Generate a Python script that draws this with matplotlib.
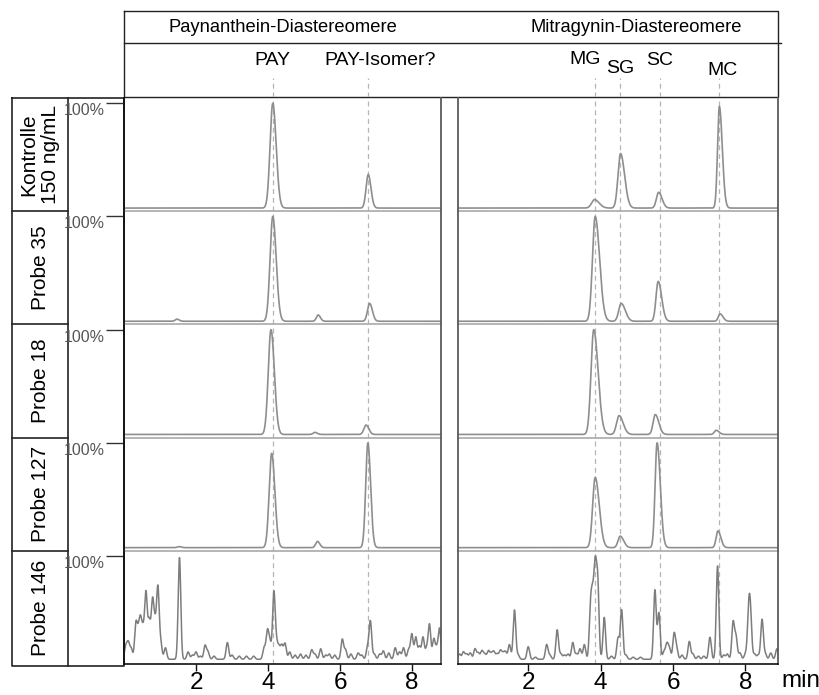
import numpy as np
import matplotlib.pyplot as plt

plt.rcParams['font.family'] = ['Liberation Sans', 'DejaVu Sans']

# ---------------- data
row_labels = ['Kontrolle\n150 ng/mL', 'Probe 35', 'Probe 18', 'Probe 127', 'Probe 146']
panel_titles = ['Paynanthein-Diastereomere', 'Mitragynin-Diastereomere']

# marker retention times (min) for the dashed lines
left_marks = ['PAY', 'PAY-Isomer?']
left_mark_rt = [4.13, 6.78]
right_marks = ['MG', 'SG', 'SC', 'MC']
right_mark_rt = [3.85, 4.54, 5.64, 7.28]

# clean traces: retention time, relative height, peak width (sigma, min)
left_rt = [[4.13, 6.78],
           [1.47, 4.13, 5.39, 6.82],
           [4.08, 5.30, 6.72],
           [1.53, 4.10, 5.37, 6.77]]
left_h = [[1.0, 0.32],
          [0.02, 1.0, 0.06, 0.17],
          [1.0, 0.02, 0.09],
          [0.01, 0.90, 0.06, 1.0]]
left_w = [[0.075, 0.06],
          [0.05, 0.075, 0.05, 0.06],
          [0.075, 0.05, 0.06],
          [0.05, 0.07, 0.05, 0.06]]

right_rt = [[3.83, 4.55, 5.60, 7.28],
            [3.85, 4.57, 5.59, 7.30],
            [3.81, 4.51, 5.51, 7.19],
            [3.85, 4.54, 5.56, 7.24]]
right_h = [[0.08, 0.52, 0.15, 0.97],
           [1.0, 0.17, 0.38, 0.07],
           [1.0, 0.18, 0.19, 0.04],
           [0.67, 0.11, 1.0, 0.16]]
right_w = [[0.08, 0.07, 0.06, 0.05],
           [0.075, 0.07, 0.06, 0.05],
           [0.075, 0.07, 0.06, 0.05],
           [0.07, 0.06, 0.055, 0.05]]

# noisy sample Probe 146: retention time, relative height
p146_left_rt = [0.05, 0.12, 0.2, 0.33, 0.40, 0.46, 0.53, 0.61, 0.70, 0.79, 0.86, 0.94, 1.02,
                1.15, 1.54, 1.78, 1.9, 2.0, 2.12, 2.25, 2.33, 2.5, 2.87, 3.0, 3.2, 3.4, 3.6,
                3.89, 3.98, 4.05, 4.16, 4.23, 4.30, 4.38, 4.47, 4.6, 4.75, 4.9, 5.05, 5.21,
                5.3, 5.46, 5.6, 5.7, 5.85, 6.06, 6.15, 6.3, 6.5, 6.6, 6.76, 6.84, 6.95, 7.1,
                7.2, 7.35, 7.53, 7.65, 7.76, 7.9, 7.99, 8.1, 8.2, 8.3, 8.4, 8.48, 8.6, 8.68, 8.76]
p146_left_h = [0.12, 0.15, 0.10, 0.33, 0.22, 0.33, 0.25, 0.62, 0.35, 0.53, 0.30, 0.67, 0.15,
               0.11, 0.97, 0.07, 0.04, 0.07, 0.03, 0.13, 0.07, 0.03, 0.16, 0.04, 0.03, 0.03, 0.03,
               0.11, 0.26, 0.16, 0.63, 0.14, 0.11, 0.13, 0.15, 0.07, 0.04, 0.05, 0.04, 0.09,
               0.05, 0.10, 0.04, 0.05, 0.04, 0.19, 0.09, 0.05, 0.06, 0.04, 0.11, 0.36, 0.05, 0.05,
               0.08, 0.06, 0.11, 0.07, 0.11, 0.09, 0.24, 0.21, 0.12, 0.21, 0.10, 0.33, 0.19, 0.10, 0.29]

p146_right_rt = [0.1, 0.21, 0.3, 0.4, 0.53, 0.62, 0.72, 0.8, 0.9, 0.98, 1.05, 1.14, 1.23, 1.3,
                 1.37, 1.48, 1.62, 1.72, 2.0, 2.2, 2.51, 2.6, 2.8, 2.9, 3.0, 3.1, 3.23, 3.33,
                 3.43, 3.55, 3.72, 3.78, 3.85, 3.92, 4.1, 4.3, 4.48, 4.58, 4.7, 4.9, 5.1, 5.5,
                 5.61, 5.75, 5.83, 5.9, 6.03, 6.1, 6.25, 6.45, 6.55, 6.7, 6.85, 7.02, 7.23, 7.4,
                 7.5, 7.66, 7.74, 7.85, 8.0, 8.09, 8.14, 8.25, 8.35, 8.46, 8.55, 8.7, 8.87]
p146_right_h = [0.05, 0.07, 0.05, 0.06, 0.10, 0.06, 0.08, 0.05, 0.08, 0.05, 0.07, 0.05, 0.08, 0.05,
                0.07, 0.14, 0.47, 0.04, 0.12, 0.02, 0.14, 0.04, 0.28, 0.05, 0.04, 0.05, 0.16, 0.05,
                0.10, 0.14, 0.45, 0.50, 0.80, 0.70, 0.40, 0.03, 0.20, 0.47, 0.04, 0.02, 0.02, 0.66,
                0.44, 0.07, 0.14, 0.10, 0.24, 0.10, 0.04, 0.17, 0.05, 0.03, 0.03, 0.21, 0.89, 0.04,
                0.05, 0.35, 0.21, 0.06, 0.05, 0.42, 0.38, 0.05, 0.04, 0.38, 0.05, 0.06, 0.10]

xticks = [2, 4, 6, 8]

# ---------------- helpers
W, H = 819, 695
def px_box(x0, y0, x1, y1):
    return [x0 / W, 1 - y1 / H, (x1 - x0) / W, (y1 - y0) / H]

def trace(t, rts, hs, ws, tail):
    y = np.zeros_like(t)
    for rt, h, w in zip(rts, hs, ws):
        s = np.where(t < rt, w, w * tail)
        y += h * np.exp(-0.5 * ((t - rt) / s) ** 2)
    return y

trace_col = '#8e8e8e'
dash_col = '#b5b5b5'
frame_col = '#5a5a5a'

fig = plt.figure(figsize=(W / 100, H / 100), dpi=100)

# background axis for boxes and free text (pixel coordinates)
bg = fig.add_axes([0, 0, 1, 1])
bg.set_xlim(0, W)
bg.set_ylim(H, 0)
bg.axis('off')

row_edges = np.linspace(98, 664, 6)
panels_x = [(124, 441), (458, 778)]
xlims = [(0, 8.8), (0.06, 8.9)]

# header box
bg.plot([124, 778, 778, 124, 124], [11, 11, 97, 97, 11], color='#222', lw=1)
bg.plot([124, 781], [43, 43], color='#222', lw=1)
bg.text(283, 28, panel_titles[0], ha='center', va='center', fontsize=13.2)
bg.text(636, 28, panel_titles[1], ha='center', va='center', fontsize=13.2)

# left label box
bg.plot([12, 124, 124, 12, 12], [98, 98, 666, 666, 98], color='#222', lw=1.2)
bg.plot([68, 68], [98, 666], color='#222', lw=1.2)
for i in range(1, 5):
    bg.plot([12, 68], [row_edges[i], row_edges[i]], color='#222', lw=1.2)
for i, lab in enumerate(row_labels):
    bg.text(40, (row_edges[i] + row_edges[i + 1]) / 2, lab, rotation=90,
            ha='center', va='center', fontsize=15, linespacing=1.2)

bg.text(801, 681, 'min', ha='center', va='center', fontsize=17.5)

# header marker labels
marks = [(left_marks, left_mark_rt, [(0, 0.68), (0.32, 0.68)]),
         (right_marks, right_mark_rt, [(-0.28, 0.69), (0.0, 0.52), (-0.01, 0.67), (0.1, 0.49)])]
for p in range(2):
    x0, x1 = panels_x[p]
    hx = fig.add_axes(px_box(x0, 43, x1, 97))
    hx.set_xlim(*xlims[p])
    hx.set_ylim(0, 1)
    hx.axis('off')
    names, rts, offs = marks[p]
    for name, rt, (dx, yy) in zip(names, rts, offs):
        hx.text(rt + dx, yy, name, ha='center', va='center', fontsize=14)
        hx.plot([rt, rt], [0, 0.35], color=dash_col, lw=0.9, ls=(0, (4, 3)))

# chromatogram rows
t = np.linspace(0, 9, 3601)
clean = [(left_rt, left_h, left_w, 1.25), (right_rt, right_h, right_w, 1.6)]
noisy = [(p146_left_rt, p146_left_h), (p146_right_rt, p146_right_h)]
mark_rts = [left_mark_rt, right_mark_rt]

for p in range(2):
    x0, x1 = panels_x[p]
    for r in range(5):
        ax = fig.add_axes(px_box(x0, row_edges[r], x1, row_edges[r + 1]))
        ax.set_xlim(*xlims[p])
        ax.set_ylim(-0.03, 1.05)
        ax.patch.set_alpha(0)
        for rt in mark_rts[p]:
            ax.axvline(rt, color=dash_col, lw=0.9, ls=(0, (4, 3)), zorder=1)
        if r < 4:
            rts, hs, ws, tail = clean[p]
            y = trace(t, rts[r], hs[r], ws[r], tail)
            ax.plot(t, y, color=trace_col, lw=1.2, zorder=2)
        else:
            rts, hs = noisy[p]
            y = trace(t, rts, hs, [0.036] * len(rts), 1.0) + 0.015
            ax.plot(t, y, color='#7d7d7d', lw=1.1, zorder=2)

        ax.spines['top'].set_visible(False)
        for side in ['left', 'right']:
            ax.spines[side].set_color(frame_col)
            ax.spines[side].set_linewidth(1.3)
        if p == 0:
            ax.spines['left'].set_color('#111')
        if r < 4:
            ax.spines['bottom'].set_color('#a9a9a9')
            ax.spines['bottom'].set_linewidth(1.2)
            ax.set_xticks([])
        else:
            ax.spines['bottom'].set_color('#111')
            ax.spines['bottom'].set_linewidth(1.2)
            ax.set_xticks(xticks)
            ax.tick_params(axis='x', labelsize=17.5, length=5, width=1, pad=1, color='#111')
        if p == 0:
            ax.set_yticks([1.0])
            ax.set_yticklabels(['100%'])
            ax.tick_params(axis='y', length=13, width=1, pad=1, labelsize=11.5,
                           labelcolor='#555', color='#333')
            for lab in ax.get_yticklabels():
                lab.set_verticalalignment('top')
        else:
            ax.set_yticks([])

fig.savefig('out.png', dpi=100)
